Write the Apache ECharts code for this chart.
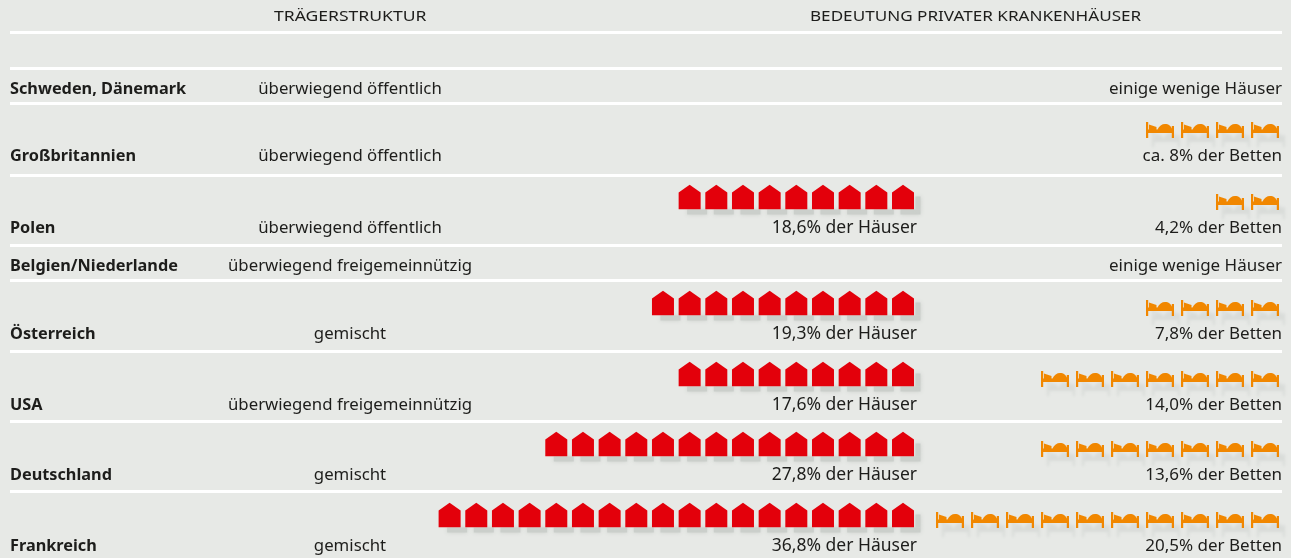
<!DOCTYPE html>
<html>
<head>
<meta charset="utf-8">
<style>
html, body { margin: 0; padding: 0; background: #e7e9e6; }
#main { width: 1291px; height: 558px; }
</style>
<script src="https://cdn.jsdelivr.net/npm/echarts@6/dist/echarts.min.js"></script>
</head>
<body>
<div id="main"></div>
<script>
// data
const countries = ['Schweden, Dänemark', 'Großbritannien', 'Polen', 'Belgien/Niederlande', 'Österreich', 'USA', 'Deutschland', 'Frankreich'];
const traeger = ['überwiegend öffentlich', 'überwiegend öffentlich', 'überwiegend öffentlich', 'überwiegend freigemeinnützig', 'gemischt', 'überwiegend freigemeinnützig', 'gemischt', 'gemischt'];
const houseCounts = [0, 0, 9, 0, 10, 9, 14, 18];
const bedCounts = [0, 4, 2, 0, 4, 7, 7, 10];
const houseLabels = ['', '', '18,6% der Häuser', '', '19,3% der Häuser', '17,6% der Häuser', '27,8% der Häuser', '36,8% der Häuser'];
const bedLabels = ['einige wenige Häuser', 'ca. 8% der Betten', '4,2% der Betten', 'einige wenige Häuser', '7,8% der Betten', '14,0% der Betten', '13,6% der Betten', '20,5% der Betten'];
const headers = ['TRÄGERSTRUKTUR', 'BEDEUTUNG PRIVATER KRANKENHÄUSER'];

// layout of the table, the rows are not evenly high
const rowY = [89, 156, 228, 266, 334, 405, 475, 546];
const ruleY = [32, 68, 103, 175, 245, 280, 351, 421, 491];

const font = '"Noto Sans", sans-serif';
const housePath = 'path://M11 0L22 7.7V24.5H0V7.7Z';
const bedPath = 'path://M0 0H2.2V16H0ZM25.8 4H28V16H25.8ZM2 7.5H26V11H2ZM3 2.5L10.5 5V7.5H3ZM11.5 7.5C13 4 16 2 19 2C22.5 2 25.5 4 26 7.5Z';
const shadowGrey = '#cbcfcb';

// one point per icon, left icon first so that the next one covers its shadow
function iconPoints(counts, offset) {
    const points = [];
    counts.forEach((count, row) => {
        for (let i = count - 1; i >= 0; i--) {
            points.push([i, rowY[row] - offset]);
        }
    });
    return points;
}

// the shadow of a house row only shows under the houses and right of the last one
function houseShadow(points, size, symbolOffset) {
    return {
        type: 'scatter',
        xAxisIndex: 1,
        yAxisIndex: 1,
        symbol: 'rect',
        symbolSize: size,
        symbolOffset: symbolOffset,
        silent: true,
        itemStyle: { color: shadowGrey, shadowColor: shadowGrey, shadowBlur: 4, opacity: 1 },
        data: points
    };
}

function textSeries(labels, x, align, fontWeight, fontSize) {
    return {
        type: 'scatter',
        xAxisIndex: 0,
        yAxisIndex: 0,
        symbolSize: 1,
        itemStyle: { opacity: 0 },
        silent: true,
        data: labels.map((label, row) => ({ value: [x, rowY[row]], label: { formatter: label } })),
        label: {
            show: true,
            position: 'inside',
            align: align,
            verticalAlign: 'middle',
            fontFamily: font,
            fontSize: fontSize,
            fontWeight: fontWeight,
            color: '#1d1d1b',
            opacity: 1
        }
    };
}

const hiddenY = (grid) => ({ type: 'value', gridIndex: grid, min: 0, max: 558, inverse: true, show: false });
const housePoints = iconPoints(houseCounts, 31);

let option = {
    backgroundColor: '#e7e9e6',
    animation: false,
    grid: [
        { left: 0, top: 0, width: 1291, height: 558 },
        // 20 houses, pitch 26.67px, counted from the right
        { left: 369.6, top: 0, width: 533.4, height: 558 },
        // 10 beds, pitch 35px, counted from the right
        { left: 915, top: 0, width: 350, height: 558 }
    ],
    xAxis: [
        { type: 'value', gridIndex: 0, min: 0, max: 1291, show: false },
        { type: 'value', gridIndex: 1, min: 0, max: 20, inverse: true, show: false },
        { type: 'value', gridIndex: 2, min: 0, max: 10, inverse: true, show: false }
    ],
    yAxis: [hiddenY(0), hiddenY(1), hiddenY(2)],
    series: [
        {
            type: 'scatter',
            xAxisIndex: 0,
            yAxisIndex: 0,
            symbolSize: 0,
            silent: true,
            data: [],
            markLine: {
                silent: true,
                symbol: 'none',
                label: { show: false },
                lineStyle: { color: '#ffffff', width: 3, type: 'solid' },
                data: ruleY.map((y) => [{ coord: [10, y] }, { coord: [1282, y] }])
            }
        },
        houseShadow(housePoints, [20, 5], [7.5, 15]),
        houseShadow(housePoints.filter((p) => p[0] === 0), [5, 13], [15, 6]),
        {
            type: 'scatter',
            xAxisIndex: 1,
            yAxisIndex: 1,
            symbol: housePath,
            symbolSize: [22, 24.5],
            silent: true,
            itemStyle: { color: '#e3000b', opacity: 1 },
            data: housePoints
        },
        {
            type: 'scatter',
            xAxisIndex: 2,
            yAxisIndex: 2,
            symbol: bedPath,
            symbolSize: [28, 16],
            silent: true,
            itemStyle: { color: '#f18700', shadowColor: '#d9dcd9', shadowBlur: 3, shadowOffsetX: 6, shadowOffsetY: 9, opacity: 1 },
            data: iconPoints(bedCounts, 26)
        },
        textSeries(countries, 10, 'left', 'bold', 16.3),
        textSeries(traeger, 350, 'center', 'normal', 16.8),
        textSeries(houseLabels, 917, 'right', 'normal', 17.5),
        textSeries(bedLabels, 1282, 'right', 'normal', 17)
    ],
    graphic: [
        { type: 'text', x: 274, y: 16.5, scaleX: 1.21, style: { text: headers[0], font: '14.5px ' + font, fill: '#1d1d1b', verticalAlign: 'middle' } },
        { type: 'text', x: 810, y: 16.5, scaleX: 1.18, style: { text: headers[1], font: '14.5px ' + font, fill: '#1d1d1b', verticalAlign: 'middle' } }
    ]
};

const chart = echarts.init(document.querySelector('#main'));
chart.setOption(option);
</script>
</body>
</html>
